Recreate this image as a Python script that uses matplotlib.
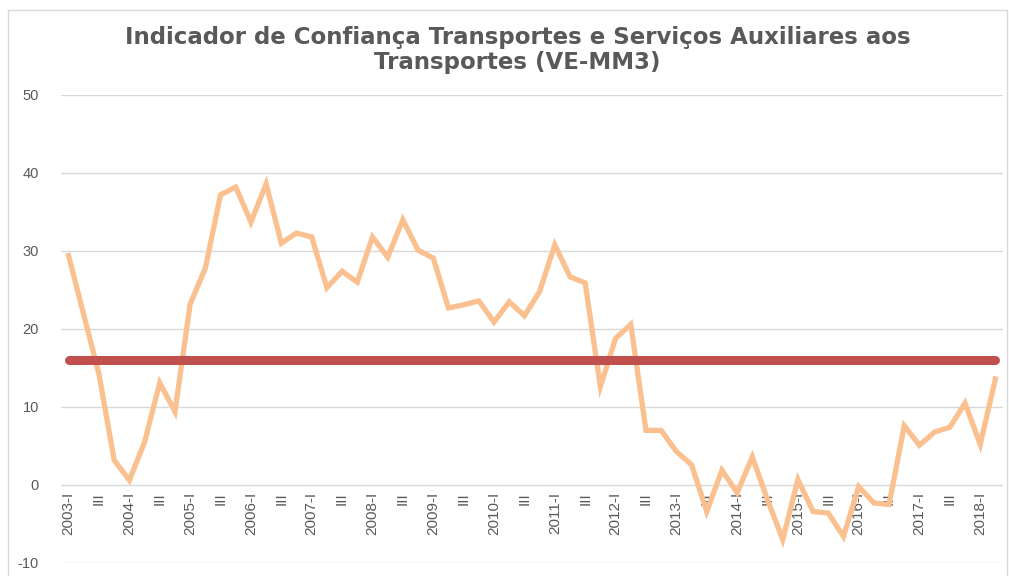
import numpy as np
import matplotlib.pyplot as plt
from matplotlib.patches import Rectangle

plt.rcParams['font.family'] = ['Liberation Sans', 'DejaVu Sans']
plt.rcParams['axes.unicode_minus'] = False

# Trimestres de 2003-I a 2018-II
anos = list(range(2003, 2019))
trimestres = [f"{a}-{q}" for a in anos for q in ["I", "II", "III", "IV"]][:62]

# Indicador de confiança (VE-MM3)
indicador = [29.4, 21.8, 14.2, 3.2, 0.6, 5.5, 13.1, 9.4, 23.2, 27.8,
             37.2, 38.2, 33.7, 38.6, 31.0, 32.3, 31.8, 25.3, 27.4, 26.0,
             31.8, 29.2, 34.0, 30.1, 29.1, 22.7, 23.1, 23.6, 20.9, 23.5,
             21.7, 24.8, 30.8, 26.7, 25.9, 12.6, 18.8, 20.6, 7.0, 7.0,
             4.3, 2.6, -3.4, 1.9, -1.0, 3.6, -1.9, -7.0, 0.7, -3.4,
             -3.6, -6.6, -0.2, -2.3, -2.5, 7.6, 5.1, 6.8, 7.4, 10.5,
             5.2, 13.6]

# Linha de referência (média)
media = [16.0] * len(indicador)

# Rótulos do eixo x: só trimestres I e III
rotulos = [t.split("-")[0] + "-I" if t.endswith("-I") else "III"
           for t in trimestres if t.endswith("-I") or t.endswith("-III")]
posicoes = [i for i, t in enumerate(trimestres) if t.endswith("-I") or t.endswith("-III")]

x = np.arange(len(indicador))
cinza = '#595959'

fig = plt.figure(figsize=(10.09, 5.76), dpi=100)
ax = fig.add_axes([61 / 1009, 1 - 563 / 576, (1003 - 61) / 1009, (563 - 95) / 576])

ax.plot(x, indicador, color='#FAC08F', linewidth=3.8, solid_joinstyle='miter', zorder=3)
ax.plot(x, media, color='#C0504D', linewidth=6.5, solid_capstyle='round', zorder=4)

ax.set_xlim(-0.5, len(indicador) - 0.5)
ax.set_ylim(-10, 50)
ax.set_yticks(range(-10, 51, 10))
ax.yaxis.grid(True, color='#D9D9D9', linewidth=1)
ax.set_axisbelow(True)

for s in ax.spines.values():
    s.set_visible(False)
ax.spines['bottom'].set_position(('data', 0))

ax.set_xticks(posicoes)
ax.set_xticklabels(rotulos, rotation=90, fontsize=11, color=cinza)
ax.tick_params(axis='x', length=0, pad=5)
ax.tick_params(axis='y', length=0, pad=16, labelsize=10.5, labelcolor=cinza)

fig.text(0.513, 1 - 50 / 576,
         "Indicador de Confiança Transportes e Serviços Auxiliares aos\nTransportes (VE-MM3)",
         ha='center', va='center', fontsize=16.5, fontweight='bold', color=cinza,
         family='DejaVu Sans', linespacing=1.1)

# Moldura da área do gráfico
fig.patches.append(Rectangle((8 / 1009, -0.02), (1007 - 8) / 1009, 1.02 - 10 / 576,
                             transform=fig.transFigure, fill=False,
                             edgecolor='#D9D9D9', linewidth=1))

fig.savefig('out.png', dpi=100)
